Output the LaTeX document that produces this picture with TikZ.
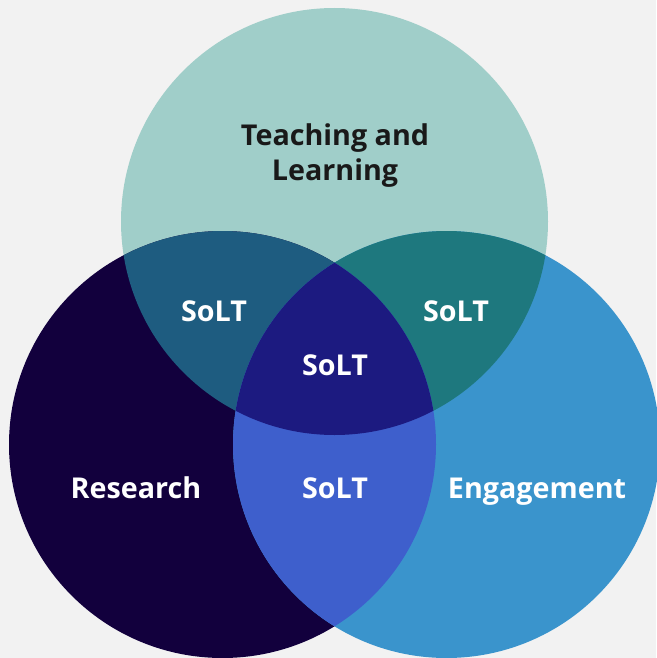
\documentclass[tikz,border=0pt]{standalone}
\usepackage{fontspec}
\setmainfont{Open Sans}
\definecolor{bg}{HTML}{F2F2F2}
\definecolor{cT}{HTML}{A0CEC9}
\definecolor{cL}{HTML}{12003D}
\definecolor{cR}{HTML}{3A94CC}
\definecolor{cTL}{HTML}{1E5C80}
\definecolor{cTR}{HTML}{1E787E}
\definecolor{cLR}{HTML}{3E5FCC}
\definecolor{cC}{HTML}{1C1A80}
\tikzset{
  lbl/.style={font=\bfseries\fontsize{28.7}{35}\selectfont, text=white, align=center, inner sep=0pt},
  lbldark/.style={lbl, text=black!90}
}
\begin{document}
\begin{tikzpicture}[x=1pt,y=-1pt]
\fill[bg] (0,0) rectangle (656,658);
\useasboundingbox (0,0) rectangle (656,658);
\def\R{213.5}
\coordinate (ct) at (334.5,221.5);
\coordinate (cl) at (222.5,444.5);
\coordinate (cr) at (446.5,444.5);
\fill[cT] (ct) circle (\R);
\fill[cL] (cl) circle (\R);
\fill[cR] (cr) circle (\R);
\begin{scope}
  \clip (ct) circle (\R);
  \fill[cTL] (cl) circle (\R);
  \fill[cTR] (cr) circle (\R);
\end{scope}
\begin{scope}
  \clip (cl) circle (\R);
  \fill[cLR] (cr) circle (\R);
  \clip (cr) circle (\R);
  \fill[cC] (ct) circle (\R);
\end{scope}
\node[lbldark] (teach) at (335,155.5) {Teaching and\\Learning};
\node[lbl, anchor=base] (stl) at (214,321) {SoLT};
\node[lbl, anchor=base] (str) at (456,321) {SoLT};
\node[lbl, anchor=base] (sc) at (335,375) {SoLT};
\node[lbl, anchor=base] (slr) at (335,498.3) {SoLT};
\node[lbl, anchor=base] (res) at (136,498.3) {Research};
\node[lbl, anchor=base] (eng) at (537,498.3) {Engagement};
\end{tikzpicture}
\end{document}
